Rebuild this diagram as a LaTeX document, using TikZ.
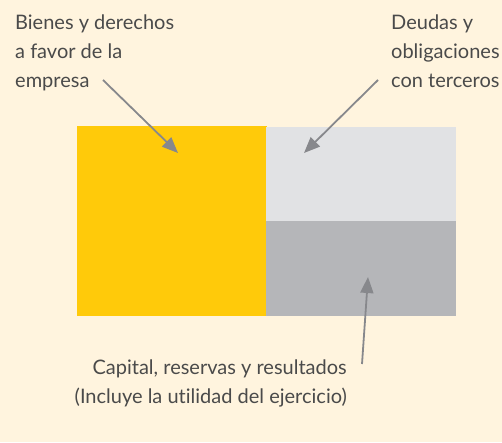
\documentclass[tikz,border=0pt]{standalone}
\usepackage{fontspec}
\setmainfont{Lato}[Ligatures=NoCommon]
\usetikzlibrary{arrows.meta}
\definecolor{bgc}{HTML}{FFF4DE}
\definecolor{yel}{HTML}{FFCA0A}
\definecolor{lgr}{HTML}{E1E2E4}
\definecolor{dgr}{HTML}{B5B6B9}
\definecolor{arr}{HTML}{87888C}
\definecolor{txt}{HTML}{4A4A4A}
\begin{document}
\begin{tikzpicture}[x=1pt,y=-1pt,
  lbl/.style={inner sep=0pt,text=txt,font=\fontsize{20}{29}\selectfont},
  pointer/.style={draw=arr,line width=1.8pt,-{Triangle[length=16pt,width=13pt]}}]
\fill[bgc] (0,0) rectangle (502,442);
\useasboundingbox (0,0) rectangle (502,442);
\fill[yel] (77,126) rectangle (266.5,316);
\fill[lgr] (266,127) rectangle (456,221);
\fill[dgr] (266,221) rectangle (456,316);
\node[lbl,anchor=base west,align=left] (bienes) at (15,87) {Bienes y derechos\\a favor de la\\empresa};
\node[lbl,anchor=base west,align=left] (deudas) at (391,87) {Deudas y\\obligaciones\\con terceros};
\node[lbl,anchor=base east,align=right] (capital) at (347,403) {Capital, reservas y resultados\\(Incluye la utilidad del ejercicio)};
\coordinate (s1) at (103,80);
\coordinate (t1) at (178,153);
\coordinate (s2) at (378,80);
\coordinate (t2) at (304,153);
\coordinate (s3) at (362,364);
\coordinate (t3) at (368,277);
\draw[pointer] (s1) -- (t1);
\draw[pointer] (s2) -- (t2);
\draw[pointer] (s3) -- (t3);
\end{tikzpicture}
\end{document}
